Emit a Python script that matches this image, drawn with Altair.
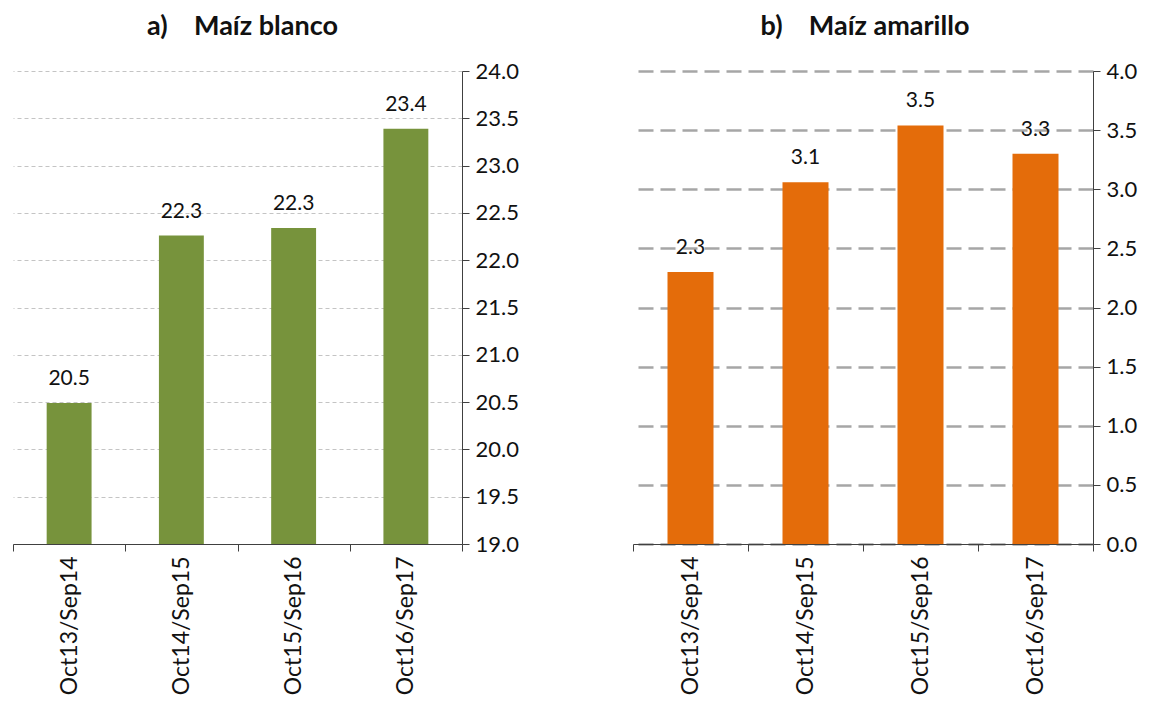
import altair as alt
import pandas as pd

categories = ["Oct13/Sep14", "Oct14/Sep15", "Oct15/Sep16", "Oct16/Sep17"]
blanco = [20.49, 22.26, 22.34, 23.39]
amarillo = [2.30, 3.06, 3.54, 3.30]
blanco_ticks = [19.0, 19.5, 20.0, 20.5, 21.0, 21.5, 22.0, 22.5, 23.0, 23.5, 24.0]
amarillo_ticks = [0.0, 0.5, 1.0, 1.5, 2.0, 2.5, 3.0, 3.5, 4.0]

FONT = "Lato"
TXT = "#111111"
AX = "#404040"


def panel(values, color, title, ticks, width, grid_color, grid_dash, grid_width, title_dx):
    df = pd.DataFrame({"cat": categories, "val": values})
    lo, hi = ticks[0], ticks[-1]
    x = alt.X(
        "cat:N", sort=categories, title=None,
        scale=alt.Scale(paddingInner=0, paddingOuter=0),
        axis=alt.Axis(
            labelAngle=270, labelAlign="right", labelBaseline="middle",
            tickBand="extent", tickSize=7, tickColor=AX, domainColor=AX,
            labelFont=FONT, labelFontSize=23, labelColor=TXT, labelPadding=5,
            grid=False,
        ),
    )
    y = alt.Y(
        "val:Q", title=None,
        scale=alt.Scale(domain=[lo, hi], zero=False, nice=False),
        axis=alt.Axis(
            orient="right", values=ticks, format=".1f", tickSize=7,
            tickColor=AX, domainColor=AX, labelFont=FONT, labelFontSize=22,
            labelColor=TXT, labelPadding=6,
            grid=True, gridColor=grid_color, gridDash=grid_dash, gridWidth=grid_width,
        ),
    )
    bars = alt.Chart(df).mark_bar(color=color, width=alt.RelativeBandSize(0.4)).encode(
        x=x, y=y, y2=alt.datum(lo)
    )
    labels = alt.Chart(df).mark_text(
        dy=-14, baseline="bottom", fontSize=21, font=FONT, color=TXT
    ).encode(x=x, y=y, text=alt.Text("val:Q", format=".1f"))
    return alt.layer(bars, labels).properties(
        width=width, height=473,
        title=alt.TitleParams(title, font=FONT, fontSize=27, fontWeight="bold",
                              color=TXT, anchor="middle", offset=19, dx=title_dx),
    )


left = panel(blanco, "#77933C", "a)\u00a0\u00a0\u00a0\u00a0Maíz blanco", blanco_ticks, 449,
             "#c4c4c4", [4, 3], 1, 5)
right = panel(amarillo, "#E46C0A", "b)\u00a0\u00a0\u00a0\u00a0Maíz amarillo", amarillo_ticks, 460,
              "#a6a6a6", [15, 7], 2.5, 2)

chart = alt.hconcat(left, right, spacing=103).configure_view(stroke=None).properties(
    background="white",
    padding={"left": -6, "top": 5, "right": 5, "bottom": 0},
)

chart.save("out.html", embed_options={"renderer": "svg", "actions": False})
